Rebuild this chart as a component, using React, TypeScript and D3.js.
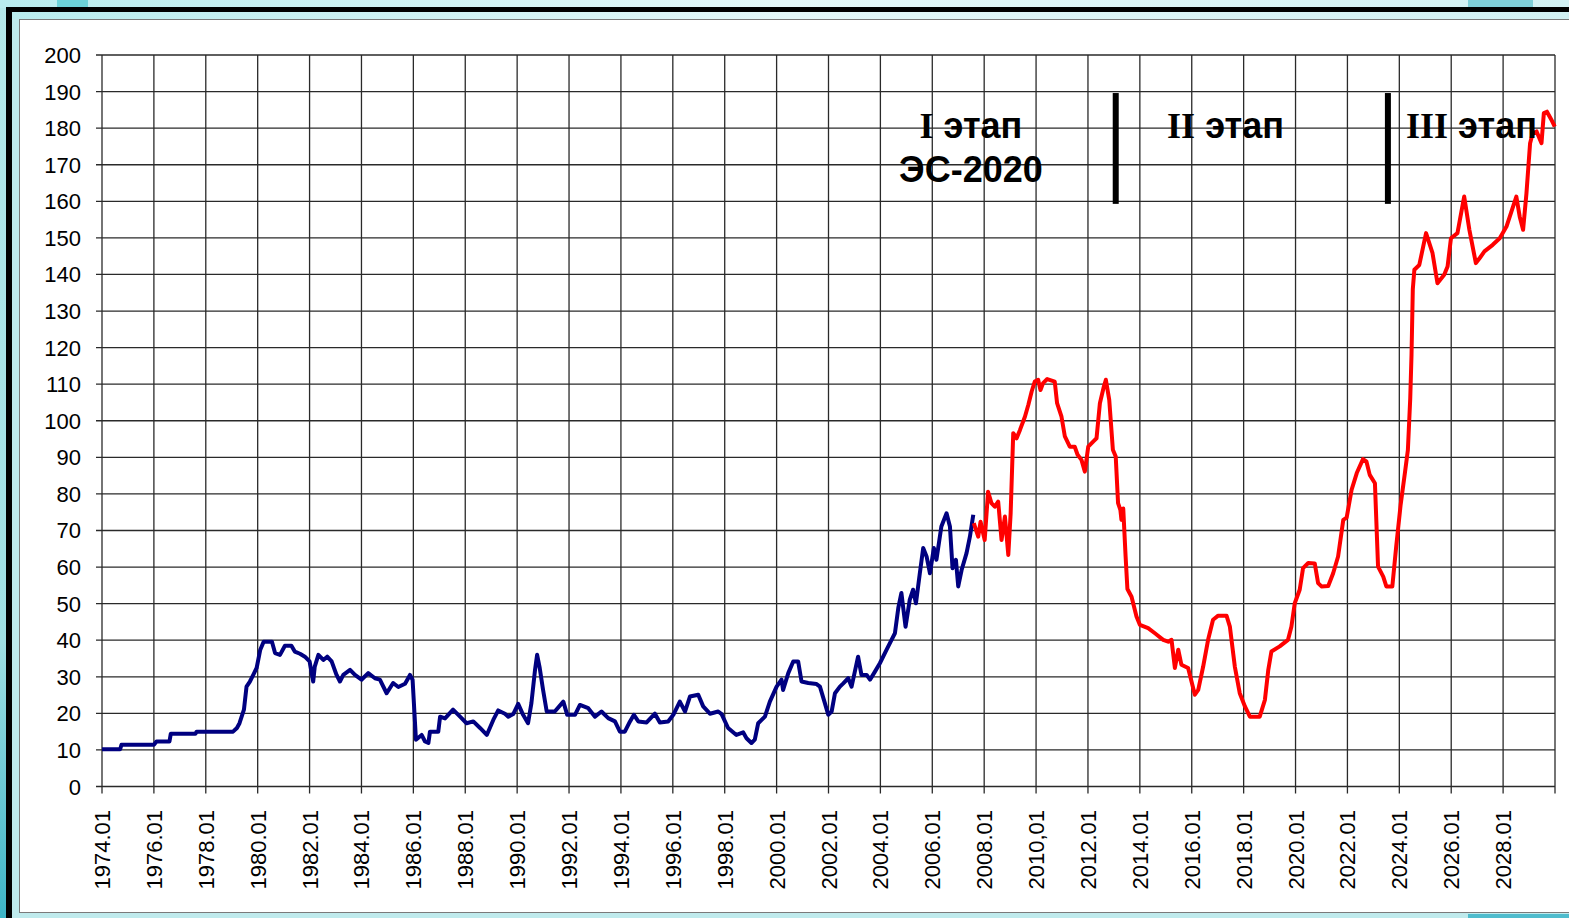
import React from "react";
import * as d3 from "d3";

const blueYears = [1974.0,1974.7,1974.75,1976.0,1976.1,1976.6,1976.65,1977.6,1977.65,1979.05,1979.2,1979.3,1979.47,1979.57,1979.7,1979.83,1979.96,1980.1,1980.23,1980.55,1980.67,1980.86,1981.05,1981.3,1981.43,1981.63,1981.82,1982.0,1982.14,1982.2,1982.34,1982.53,1982.68,1982.85,1983.04,1983.17,1983.3,1983.56,1983.75,1984.0,1984.26,1984.52,1984.71,1984.97,1985.22,1985.42,1985.68,1985.87,1985.97,1986.1,1986.32,1986.45,1986.58,1986.64,1986.96,1987.03,1987.22,1987.53,1987.8,1988.05,1988.31,1988.57,1988.83,1989.08,1989.27,1989.53,1989.66,1989.85,1990.04,1990.23,1990.42,1990.55,1990.69,1990.77,1990.87,1991.0,1991.14,1991.45,1991.78,1991.93,1992.23,1992.42,1992.74,1993.0,1993.25,1993.51,1993.77,1993.96,1994.15,1994.35,1994.5,1994.67,1994.99,1995.31,1995.5,1995.82,1996.02,1996.27,1996.47,1996.66,1996.98,1997.17,1997.43,1997.75,1997.88,1998.13,1998.45,1998.71,1998.84,1999.03,1999.16,1999.29,1999.55,1999.74,2000.0,2000.19,2000.25,2000.45,2000.64,2000.83,2000.96,2001.22,2001.54,2001.67,2001.86,2001.99,2002.12,2002.25,2002.44,2002.57,2002.76,2002.89,2003.14,2003.27,2003.47,2003.6,2003.79,2003.98,2004.24,2004.43,2004.56,2004.69,2004.81,2004.97,2005.13,2005.26,2005.37,2005.52,2005.65,2005.78,2005.91,2006.06,2006.16,2006.35,2006.55,2006.68,2006.78,2006.91,2007.0,2007.13,2007.32,2007.45,2007.58];
const blueValues = [10.2,10.2,11.4,11.4,12.3,12.3,14.4,14.4,15.0,15.0,16.0,17.3,21,27.3,28.7,30.5,32.4,37.4,39.6,39.6,36.5,36,38.5,38.5,36.9,36.3,35.5,34.2,28.7,32.8,36,34.6,35.5,34.2,30.5,28.7,30.5,31.9,30.5,29.2,31,29.6,29.2,25.5,28.3,27.2,28.1,30.5,29.2,12.8,14.1,12.3,11.9,15,15,19.1,18.6,21,19.1,17.3,17.8,16,14.1,18.2,20.8,19.9,19.1,19.8,22.6,19.6,17.3,22.8,31.9,36,32.4,26.4,20.5,20.5,23.2,19.6,19.6,22.3,21.4,19.1,20.5,18.7,17.8,15,15,17.8,19.6,17.8,17.5,19.9,17.5,17.8,19.6,23.2,20.5,24.6,25.1,21.9,19.9,20.5,19.8,16,14.1,14.8,13.2,11.9,12.8,17.3,19.1,23.2,27.3,29.2,26.4,31,34.2,34.2,28.7,28.3,28,27.3,22.8,19.6,20.5,25.5,27.3,28.2,29.6,27.3,35.5,30.5,30.5,29.2,31.4,33.7,37.4,40.1,41.9,48.8,52.9,43.7,51,53.8,50.1,58.3,65.2,62.9,58.3,65.2,62,71.1,74.7,71.1,59.7,62,54.7,59.2,63.8,68.3,74.3];

const redYears = [2007.6,2007.64,2007.77,2007.86,2008.02,2008.15,2008.28,2008.41,2008.54,2008.67,2008.8,2008.93,2009.02,2009.12,2009.25,2009.38,2009.57,2009.7,2009.83,2009.95,2010.08,2010.17,2010.27,2010.43,2010.72,2010.81,2010.98,2011.11,2011.3,2011.49,2011.6,2011.75,2011.88,2012.01,2012.2,2012.33,2012.46,2012.61,2012.69,2012.82,2012.96,2013.07,2013.16,2013.25,2013.29,2013.36,2013.45,2013.52,2013.68,2013.87,2014.0,2014.32,2014.58,2014.9,2015.09,2015.22,2015.35,2015.48,2015.6,2015.86,2016.12,2016.25,2016.44,2016.63,2016.82,2017.02,2017.34,2017.47,2017.66,2017.85,2018.05,2018.24,2018.62,2018.82,2018.95,2019.07,2019.39,2019.71,2019.84,2019.97,2020.16,2020.29,2020.49,2020.74,2020.87,2021.0,2021.26,2021.45,2021.64,2021.84,2021.97,2022.16,2022.36,2022.6,2022.73,2022.86,2023.06,2023.18,2023.38,2023.5,2023.73,2023.88,2024.05,2024.22,2024.33,2024.42,2024.47,2024.52,2024.58,2024.77,2025.03,2025.28,2025.47,2025.73,2025.86,2025.99,2026.24,2026.5,2026.7,2026.95,2027.1,2027.28,2027.6,2027.87,2028.13,2028.32,2028.51,2028.64,2028.77,2028.9,2029.04,2029.14,2029.29,2029.48,2029.57,2029.69,2029.86,2029.99];
const redValues = [72,71.1,68.3,72.4,67.4,80.6,77.5,76.5,77.9,67.4,73.8,63.3,74.7,96.6,95.2,97.5,101.1,104.3,108,110.7,111.2,108.4,110.3,111.4,110.7,104.8,101.1,95.7,92.9,92.9,90.7,89.3,86.1,92.9,94.3,95.2,104.8,109.3,111.2,105.7,92.1,90.2,77.5,75.6,72.9,76,63,54,51.9,46.5,44.2,43.3,41.9,40.1,39.6,40.1,32.4,37.4,33.3,32.4,25.1,26.4,32.8,40.1,45.6,46.7,46.7,43.7,32.8,25.5,21.9,19.1,19.1,23.7,31.9,36.9,38.3,40.1,43.7,50.1,53.8,59.7,61.1,61,55.6,54.7,54.8,58.3,62.9,72.9,73.5,81.1,85.7,89.5,88.9,85.2,82.9,60.1,57.4,54.7,54.7,65.6,77,86,92,106,118,136,141.3,142.6,151.3,145.8,137.6,139.9,142.2,149.9,151.3,161.3,152.2,143.1,144.5,146.3,148.1,149.9,153.1,157.2,161.3,155.8,152.2,162.2,175.9,178.6,179.1,175.9,184.1,184.5,182.3,180.4];

const xTickYears = d3.range(1974, 2029, 2);
const xTickLabels = xTickYears.map((y) => (y === 2010 ? "2010,01" : `${y}.01`));
const yTicks = d3.range(0, 201, 10);

const stageBars = [2013.07, 2023.56];
const stageLabels = [
  { roman: "I", word: "этап", year: 2007.49, anchor: "middle" },
  { roman: "II", word: "этап", year: 2015.05, anchor: "start" },
  { roman: "III", word: "этап", year: 2024.26, anchor: "start" },
];

export default function App() {
  const W = 1569, H = 918;
  const x = d3.scaleLinear().domain([1974, 2030]).range([102, 1555]);
  const y = d3.scaleLinear().domain([0, 200]).range([786.5, 55]);
  const line = d3
    .line<[number, number]>()
    .x((d) => x(d[0]))
    .y((d) => y(d[1]))
    .curve(d3.curveLinear);
  const blue = blueYears.map((yr, i) => [yr, blueValues[i]] as [number, number]);
  const red = redYears.map((yr, i) => [yr, redValues[i]] as [number, number]);
  const sans = "'Liberation Sans', Arial, sans-serif";
  const serif = "'Liberation Serif', 'Times New Roman', serif";
  const gridColor = "#2a2a2a";

  return (
    <svg width={W} height={H} style={{ position: "absolute", left: 0, top: 0, display: "block" }}>
      <defs>
        <linearGradient id="topg" x1="0" x2="1" y1="0" y2="0">
          <stop offset="0" stopColor="#b9ecee" />
          <stop offset="0.5" stopColor="#e4f8f9" />
          <stop offset="1" stopColor="#d2f1f3" />
        </linearGradient>
        <linearGradient id="leftg" x1="0" x2="0" y1="0" y2="1">
          <stop offset="0" stopColor="#b5e8ea" />
          <stop offset="0.7" stopColor="#9fdfe3" />
          <stop offset="1" stopColor="#3db4c6" />
        </linearGradient>
      </defs>
      <rect x={0} y={0} width={W} height={H} fill="url(#leftg)" />
      <rect x={0} y={0} width={W} height={8} fill="url(#topg)" />
      <rect x={57} y={0} width={31} height={8} fill="#6dd2d8" />
      <rect x={1468} y={0} width={65} height={8} fill="#7fcfd8" />
      {/* black frame */}
      <rect x={6} y={7} width={W - 6} height={H - 7} fill="#000" />
      <rect x={12} y={12} width={W - 12} height={H - 12} fill="#bfeaec" />
      <rect x={12} y={12} width={W - 12} height={7} fill="url(#topg)" />
      <rect x={12} y={913} width={W - 12} height={5} fill="#bfeaec" />
      <rect x={1468} y={914} width={101} height={4} fill="#4fbccd" />
      {/* white chart area */}
      <rect x={19.5} y={19.5} width={W} height={893} fill="#fff" stroke="#7a7a7a" strokeWidth={1} />

      {/* grid */}
      {yTicks.map((t) => (
        <line key={"hy" + t} x1={96} x2={x(2030)} y1={y(t)} y2={y(t)} stroke={gridColor} strokeWidth={1.3} />
      ))}
      {[...xTickYears, 2030].map((t) => (
        <line key={"vx" + t} x1={x(t)} x2={x(t)} y1={y(200)} y2={y(0) + 7} stroke={gridColor} strokeWidth={1.3} />
      ))}

      {/* y labels */}
      {yTicks.map((t) => (
        <text key={"yl" + t} x={81} y={y(t) + 8} textAnchor="end" fontFamily={sans} fontSize={22} fill="#000">
          {t}
        </text>
      ))}
      {/* x labels */}
      {xTickYears.map((t, i) => (
        <text
          key={"xl" + t}
          transform={`translate(${x(t) + 8},${810}) rotate(-90)`}
          textAnchor="end"
          fontFamily={sans}
          fontSize={22}
          fill="#000"
        >
          {xTickLabels[i]}
        </text>
      ))}

      {/* series */}
      <path d={line(blue) || ""} fill="none" stroke="#000080" strokeWidth={4} strokeLinejoin="round" />
      <path d={line(red) || ""} fill="none" stroke="#ff0000" strokeWidth={4} strokeLinejoin="round" />

      {/* stage bars */}
      {stageBars.map((b) => (
        <rect key={"sb" + b} x={x(b) - 3} y={y(189.6)} width={6} height={y(159.3) - y(189.6)} fill="#000" />
      ))}

      {/* stage labels */}
      {stageLabels.map((s) => (
        <text
          key={"st" + s.roman}
          x={x(s.year)}
          y={y(177.4)}
          textAnchor={s.anchor as any}
          fontSize={36}
          fontWeight="bold"
          fill="#000"
        >
          <tspan fontFamily={serif}>{s.roman}</tspan>
          <tspan fontFamily={sans}>{" " + s.word}</tspan>
        </text>
      ))}
      <text x={x(2007.49)} y={y(165.3)} textAnchor="middle" fontSize={36} fontWeight="bold" fontFamily={sans} fill="#000">
        ЭС-2020
      </text>
    </svg>
  );
}
